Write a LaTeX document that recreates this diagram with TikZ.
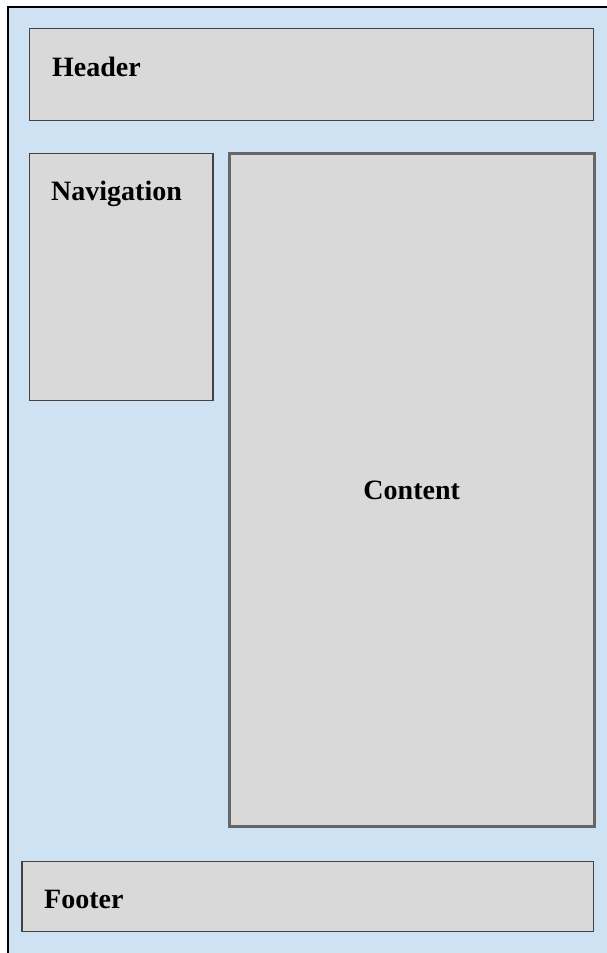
\documentclass[tikz,border=0pt]{standalone}
\usepackage{fontspec}
\setmainfont{Liberation Serif}
\usepackage{xcolor}
\usetikzlibrary{calc, positioning}
\definecolor{pageblue}{HTML}{CFE2F3}
\definecolor{boxgray}{HTML}{D9D9D9}
\definecolor{edgegray}{HTML}{434343}
\definecolor{midgray}{HTML}{666666}

\begin{document}
\begin{tikzpicture}[x=1pt, y=-1pt,
  blk/.style={draw=edgegray, fill=boxgray, line width=1.5pt, inner sep=0pt},
  lbl/.style={font=\fontsize{28}{34}\selectfont\bfseries, inner sep=0pt}]
\useasboundingbox (0,0) rectangle (607,953);
\fill[pageblue] (8,7) rectangle (607,953);
\draw[line width=2pt] (8.3,953) -- (8.3,7) -- (607,7);
\node[blk, minimum width=564pt, minimum height=92.4pt] (hdr) at (311.3,74.5) {};
\node[blk, minimum width=183.7pt, minimum height=247.4pt] (nav) at (121.2,277) {};
\node[blk, draw=midgray, line width=3pt, minimum width=365.3pt, minimum height=673.4pt] (cnt) at (411.7,490) {};
\node[blk, minimum width=571.3pt, minimum height=70pt] (ftr) at (307.7,896.7) {};
\node[lbl, anchor=base west] (hdrtxt) at (52,76) {Header};
\node[lbl, anchor=base west] (navtxt) at (51,200) {Navigation};
\node[lbl] (cnttxt) at (cnt.center) {Content};
\node[lbl, anchor=base west] (ftrtxt) at (44,908) {Footer};
\end{tikzpicture}
\end{document}
